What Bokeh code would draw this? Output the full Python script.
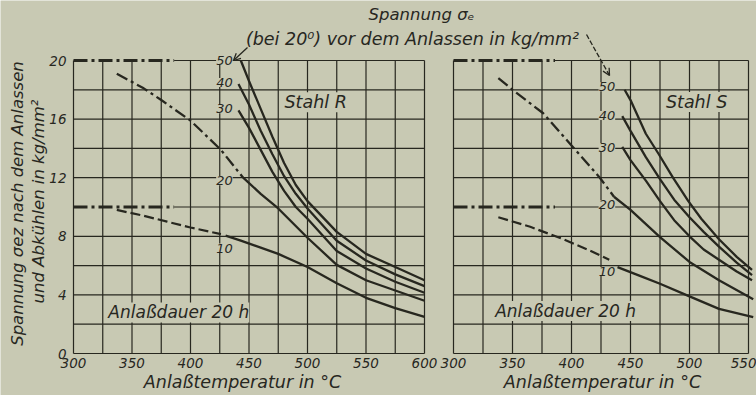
import math
from bokeh.plotting import figure
from bokeh.models import Range1d, Label, Arrow, OpenHead
from bokeh.embed import file_html
from bokeh.resources import INLINE

# ---------------- data ----------------
temp_ticks_left = [300, 350, 400, 450, 500, 550, 600]
temp_ticks_right = [300, 350, 400, 450, 500, 550]
stress_ticks = [0, 4, 8, 12, 16, 20]
grid_T_left = [300, 325, 350, 375, 400, 425, 450, 475, 500, 525, 550, 575, 600]
grid_T_right = [300, 325, 350, 375, 400, 425, 450, 475, 500, 525, 550]
grid_v = [0, 2, 4, 6, 8, 10, 12, 14, 16, 18, 20]
sigma_e = ["50", "40", "30", "20", "10"]

# horizontal dash-dot reference lines
ref_levels = [20, 10]
ref_T_start = 300
ref_T_end = 386

# Stahl R (left panel)
R50_T = [443, 450, 460, 470, 480, 490, 500, 525, 550, 575, 600]
R50_v = [20.0, 18.6, 16.7, 14.8, 13.0, 11.5, 10.4, 8.3, 6.8, 5.9, 5.0]
R40_T = [441, 450, 460, 470, 480, 490, 500, 525, 550, 575, 600]
R40_v = [18.4, 17.0, 15.2, 13.6, 12.1, 10.9, 9.9, 7.7, 6.35, 5.4, 4.6]
R30_T = [441, 450, 460, 470, 480, 490, 500, 525, 550, 575, 600]
R30_v = [16.6, 15.4, 13.9, 12.4, 11.1, 10.0, 9.2, 7.0, 5.8, 4.9, 4.15]
R20_dd_T = [337, 360, 375, 400, 426, 445]
R20_dd_v = [19.1, 18.1, 17.3, 15.9, 13.9, 12.0]
R20_T = [445, 460, 475, 500, 525, 550, 575, 600]
R20_v = [12.0, 10.9, 9.9, 7.9, 6.05, 5.0, 4.3, 3.6]
R10_da_T = [337, 360, 380, 400, 426]
R10_da_v = [9.8, 9.4, 9.0, 8.6, 8.15]
R10_T = [430, 443, 475, 500, 525, 550, 575, 600]
R10_v = [8.05, 7.7, 6.8, 5.9, 4.8, 3.8, 3.1, 2.5]

# Stahl S (right panel)
S50_T = [445, 450, 463, 474, 486, 499, 510, 525, 540, 553]
S50_v = [18.0, 17.3, 15.0, 13.6, 12.0, 10.4, 9.2, 7.8, 6.6, 5.7]
S40_T = [443, 450, 463, 475, 487, 500, 512, 525, 540, 553]
S40_v = [16.2, 15.2, 13.4, 11.9, 10.5, 9.3, 8.3, 7.3, 6.2, 5.35]
S30_T = [443, 450, 463, 475, 487, 500, 512, 525, 540, 553]
S30_v = [14.1, 13.2, 11.8, 10.4, 9.1, 8.0, 7.1, 6.4, 5.6, 5.0]
S20_dd_T = [338, 350, 376, 400, 424, 436]
S20_dd_v = [18.8, 18.0, 16.4, 14.2, 12.0, 10.7]
S20_T = [436, 450, 475, 500, 525, 554]
S20_v = [10.7, 9.8, 7.95, 6.25, 5.0, 3.7]
S10_da_T = [338, 365, 393, 415, 432]
S10_da_v = [9.3, 8.65, 7.8, 7.05, 6.4]
S10_T = [439, 458, 475, 500, 525, 554]
S10_v = [5.9, 5.3, 4.76, 3.9, 3.05, 2.48]

# ---------------- style / geometry ----------------
PAPER = "#c8c9b3"
INK = "#27271f"
FONT = "DejaVu Sans"

W, H = 756, 395
FL, FT, FB = 73, 60, 353          # left-panel origin px, top/bottom of the grids
left_ppd = 351 / 300.0            # px per degree, left panel
right_ppd = 295 / 250.0           # px per degree, right panel
right_origin_px = 453
px_to_v = 20.0 / (FB - FT)

x_left = Range1d(300 - FL / left_ppd, 300 + (W - FL) / left_ppd)
x_right = Range1d(300 - right_origin_px / right_ppd, 300 + (W - right_origin_px) / right_ppd)
y_rng = Range1d(-(H - FB) * px_to_v, FB * px_to_v)

p = figure(width=W, height=H, x_range=x_left, y_range=y_rng,
           output_backend="svg", toolbar_location=None,
           min_border=0)
p.extra_x_ranges = {"R": x_right}
p.background_fill_color = PAPER
p.border_fill_color = PAPER
p.outline_line_color = None
p.xgrid.visible = False
p.ygrid.visible = False
p.xaxis.visible = False
p.yaxis.visible = False


def L2T(px):   # left-panel screen px -> temperature
    return 300 + (px - FL) / left_ppd


def R2T(px):   # right-panel screen px -> temperature
    return 300 + (px - right_origin_px) / right_ppd


def PY(py):    # screen px from top -> stress value
    return (FB - py) * px_to_v


def grid(panel_T, rng):
    tmin, tmax = panel_T[0], panel_T[-1]
    kw = {} if rng == "default" else {"x_range_name": rng}
    p.segment(x0=panel_T, y0=[0] * len(panel_T), x1=panel_T, y1=[20] * len(panel_T),
              line_color=INK, line_width=1.2, **kw)
    x0 = [ref_T_end if v in ref_levels else tmin for v in grid_v]
    p.segment(x0=x0, y0=grid_v, x1=[tmax] * len(grid_v), y1=grid_v,
              line_color=INK, line_width=1.2, **kw)
    p.segment(x0=[ref_T_start] * len(ref_levels), y0=ref_levels,
              x1=[ref_T_end] * len(ref_levels), y1=ref_levels,
              line_color=INK, line_width=2.8, line_dash="14 4 3 4", **kw)


grid(grid_T_left, "default")
grid(grid_T_right, "R")


def curve(T, v, rng, dash="solid", lw=2.3):
    kw = {} if rng == "default" else {"x_range_name": rng}
    p.line(T, v, line_color=INK, line_width=lw, line_dash=dash, **kw)


for T, v in [(R50_T, R50_v), (R40_T, R40_v), (R30_T, R30_v), (R20_T, R20_v), (R10_T, R10_v)]:
    curve(T, v, "default")
curve(R20_dd_T, R20_dd_v, "default", "12 4 3 4", 2.3)
curve(R10_da_T, R10_da_v, "default", "10 4", 2.2)
for T, v in [(S50_T, S50_v), (S40_T, S40_v), (S30_T, S30_v), (S20_T, S20_v), (S10_T, S10_v)]:
    curve(T, v, "R")
curve(S20_dd_T, S20_dd_v, "R", "12 4 3 4", 2.3)
curve(S10_da_T, S10_da_v, "R", "10 4", 2.2)


def lab(text, x, y, rng="default", size="15px", angle=0.0, bg=None,
        align="center", baseline="middle"):
    l = Label(x=x, y=y, x_range_name=rng, text=text, angle=angle,
              text_font=FONT, text_font_style="italic",
              text_font_size=size, text_color=INK, text_align=align,
              text_baseline=baseline)
    if bg is not None:
        l.background_fill_color = bg
    p.add_layout(l)


# y tick labels
for s in stress_ticks:
    lab(str(s), L2T(66), s, "default", "13.5px", align="right")
# x tick labels
for t in temp_ticks_left:
    lab(str(t), t, PY(357), "default", "13.5px", baseline="top")
for t in temp_ticks_right:
    if t == temp_ticks_right[-1]:
        lab(str(t), R2T(W), PY(357), "R", "13.5px", baseline="top", align="right")
    else:
        lab(str(t), t, PY(357), "R", "13.5px", baseline="top")

# curve labels on the sigma_e scale line
lv_left = [20.0, 18.5, 16.7, 11.8, 7.2]
lv_right = [18.2, 16.25, 14.06, 10.17, 5.6]
for s, v in zip(sigma_e, lv_left):
    lab(s, 429, v, "default", "13px", bg=PAPER)
for s, v in zip(sigma_e, lv_right):
    lab(s, 430, v, "R", "13px", bg=PAPER)

lab("Stahl R", 507, 17.15, "default", "17.5px", bg=PAPER)
lab("Stahl S", 506, 17.17, "R", "17.5px", bg=PAPER)
lab("Anlaßdauer 20 h", 390, 2.8, "default", "17px", bg=PAPER)
lab("Anlaßdauer 20 h", 395, 2.9, "R", "17px", bg=PAPER)
lab("Anlaßtemperatur in °C", L2T(242), PY(381), "default", "17.5px")
lab("Anlaßtemperatur in °C", R2T(602), PY(381), "R", "17.5px")

lab("Spannung σₑ", L2T(421), PY(14), "default", "16.5px")
lab("(bei 20⁰) vor dem Anlassen in kg/mm²", L2T(412), PY(38), "default", "17.5px")

lab("Spannung σez nach dem Anlassen", L2T(17), PY(203), "default", "16.5px", angle=math.pi / 2)
lab("und Abkühlen in kg/mm²", L2T(38), PY(201), "default", "16.5px", angle=math.pi / 2)

p.add_layout(Arrow(end=OpenHead(size=7, line_color=INK, line_width=1.3),
                   x_start=L2T(247), y_start=PY(47), x_end=L2T(233), y_end=PY(60),
                   line_color=INK, line_width=1.3))
p.add_layout(Arrow(end=OpenHead(size=7, line_color=INK, line_width=1.3),
                   x_start=R2T(586), y_start=PY(34), x_end=R2T(609), y_end=PY(75),
                   x_range_name="R", line_color=INK, line_width=1.3, line_dash="5 2"))

open("out.html", "w").write(file_html(p, INLINE))
